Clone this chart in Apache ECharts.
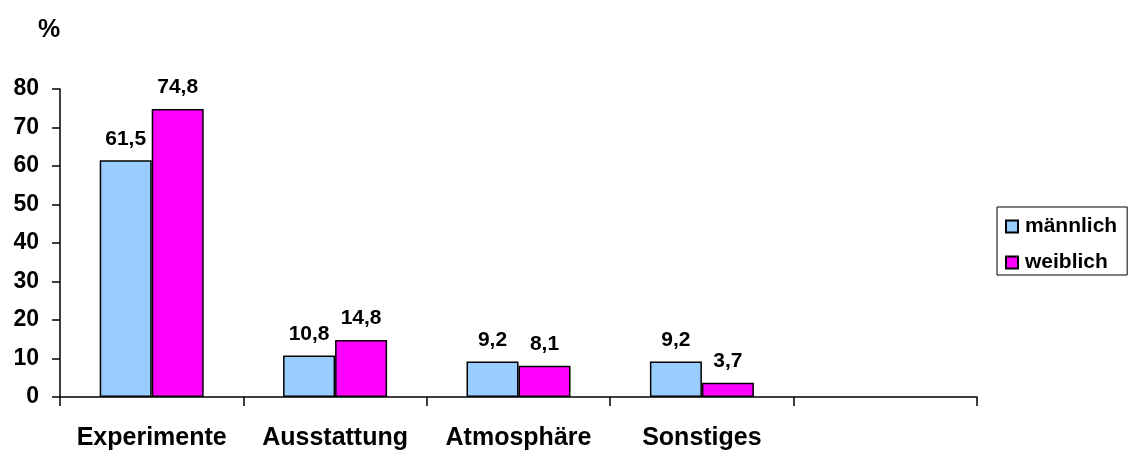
<!DOCTYPE html>
<html><head><meta charset="utf-8">
<script src="https://cdn.jsdelivr.net/npm/echarts@6/dist/echarts.min.js"></script>
<style>html,body{margin:0;padding:0;background:#fff}#c{width:1128px;height:452px}</style>
</head><body><div id="c"></div>
<script>
const categories = ['Experimente', 'Ausstattung', 'Atmosphäre', 'Sonstiges', ''];
const maennlich = [61.5, 10.8, 9.2, 9.2, null];
const weiblich = [74.8, 14.8, 8.1, 3.7, null];
const yTicks = [0, 10, 20, 30, 40, 50, 60, 70, 80];

const FONT = '"Liberation Sans", Arial, sans-serif';
const chart = echarts.init(document.getElementById('c'));
const lbl = {
  show: true, position: 'top', distance: 11, color: '#000',
  fontFamily: FONT, fontWeight: 'bold', fontSize: 21,
  formatter: p => p.value == null ? '' : String(p.value.toFixed(1)).replace('.', ',')
};
chart.setOption({
  animation: false,
  textStyle: { fontFamily: FONT },
  title: { text: '%', left: 33, top: 13, textStyle: { fontFamily: FONT, fontWeight: 'bold', fontSize: 25, color: '#000' } },
  grid: { left: 60, right: 151, top: 89, bottom: 55, containLabel: false },
  legend: {
    orient: 'vertical', left: 997, top: 207,
    borderColor: '#000', borderWidth: 1, padding: [9, 10, 2, 8],
    itemGap: 15, itemWidth: 12, itemHeight: 12, icon: 'rect',
    textStyle: { fontFamily: FONT, fontWeight: 'bold', fontSize: 21, color: '#000', padding: [0, 0, 0, 2] },
    data: ['männlich', 'weiblich']
  },
  xAxis: {
    type: 'category', data: categories,
    axisLine: { lineStyle: { color: '#000', width: 1.5 } },
    axisTick: { show: true, length: 9, alignWithLabel: false, lineStyle: { color: '#000', width: 1.5 } },
    axisLabel: { margin: 29, color: '#000', fontFamily: FONT, fontWeight: 'bold', fontSize: 25, interval: 0 },
    splitLine: { show: false }
  },
  yAxis: {
    type: 'value', min: yTicks[0], max: yTicks[yTicks.length - 1], interval: 10,
    axisLine: { show: true, lineStyle: { color: '#000', width: 1.5 } },
    axisTick: { show: true, length: 8, lineStyle: { color: '#000', width: 1.5 } },
    axisLabel: { margin: 21, color: '#000', fontFamily: FONT, fontWeight: 'bold', fontSize: 23 },
    splitLine: { show: false }
  },
  series: [
    { name: 'männlich', type: 'bar', data: maennlich, barWidth: 52, barGap: '0%',
      itemStyle: { color: '#99CCFF', borderColor: '#000', borderWidth: 1.5 }, label: lbl },
    { name: 'weiblich', type: 'bar', data: weiblich, barWidth: 52, barGap: '0%',
      itemStyle: { color: '#FF00FF', borderColor: '#000', borderWidth: 1.5 }, label: lbl }
  ]
});
</script></body></html>
